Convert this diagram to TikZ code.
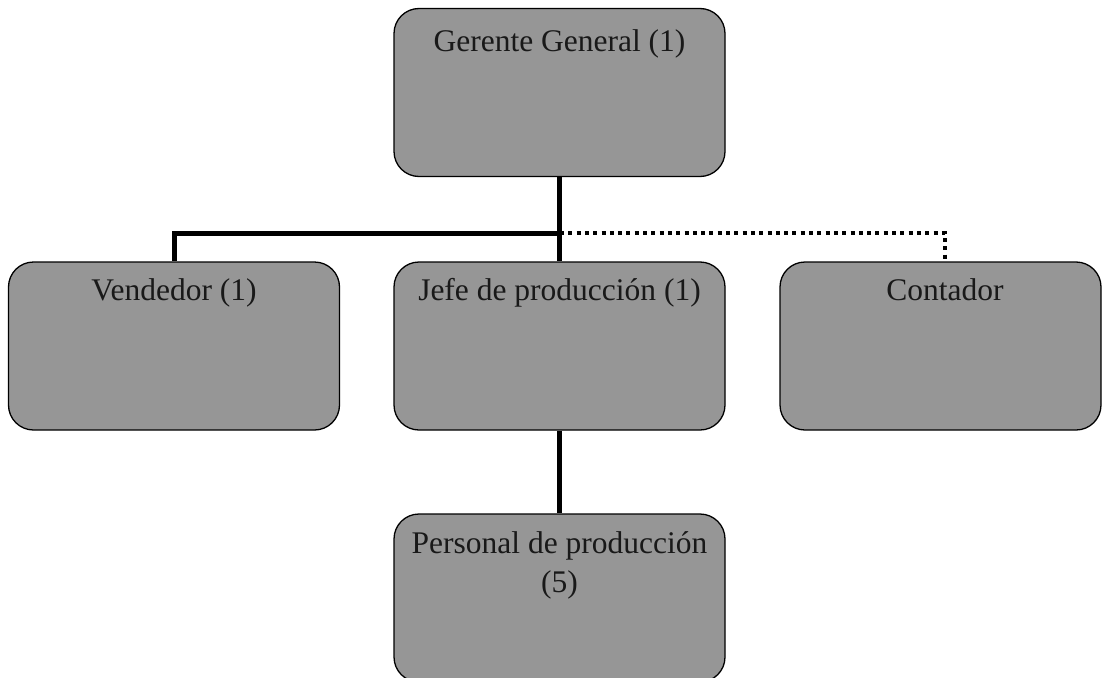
\documentclass[tikz,border=0pt]{standalone}
\usepackage{fontspec}
\setmainfont{Liberation Serif}
\definecolor{boxgray}{RGB}{150,150,150}
\begin{document}
\begin{tikzpicture}[x=1pt,y=-1pt,
  orgbox/.style={draw=black, line width=1.3pt, fill=boxgray, rounded corners=25pt,
    rectangle, inner sep=0pt, minimum width=331pt, minimum height=168pt},
  orgtext/.style={font=\fontsize{31.5}{39}\selectfont, inner sep=0pt, anchor=base, align=center, text=black!90},
  solidline/.style={line width=5pt},
  dotline/.style={line width=4pt, dash pattern=on 4pt off 4.3pt}]
\clip (0,0) rectangle (1102,677);
\useasboundingbox (0,0) rectangle (1102,677);
% connectors
\coordinate (hub) at (560,233);
\coordinate (dotend) at (945,262);
% boxes
\node[orgbox] (ger) at (559.5,92.5) {};
\node[orgbox] (vend) at (174,346) {};
\node[orgbox] (jefe) at (559.5,346) {};
\node[orgbox, minimum width=321pt] (cont) at (940.5,346) {};
\node[orgbox] (pers) at (559.5,598) {};
% texts
\node[orgtext] (tger) at (559.5,52) {Gerente General (1)};
\node[orgtext] (tvend) at (174,300) {Vendedor (1)};
\node[orgtext] (tjefe) at (559.5,300) {Jefe de producción (1)};
\node[orgtext] (tcont) at (945,300) {Contador};
\node[orgtext] (tpers) at (559.5,592) {Personal de producción\\(5)};
% connectors
\draw[dotline] (hub) -| (dotend);
\draw[solidline] (ger.south) -- (jefe.north);
\draw[solidline] (vend.north) |- (hub);
\draw[solidline] (jefe.south) -- (pers.north);
\end{tikzpicture}
\end{document}
